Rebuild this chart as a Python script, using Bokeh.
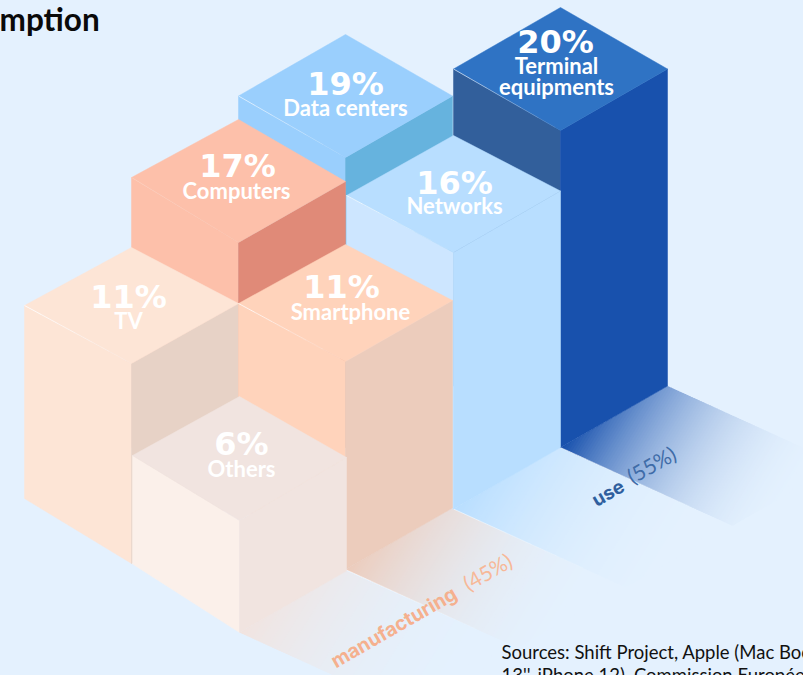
import math
from bokeh.plotting import figure
from bokeh.models import Range1d
from bokeh.core.properties import value
from bokeh.embed import file_html
from bokeh.resources import INLINE

# ---------- data ----------
categories = ["Terminal equipments", "Data centers", "Networks", "Computers", "TV", "Smartphone", "Others"]
shares = [20, 19, 16, 17, 11, 11, 6]
# drawn column heights (the picture does not scale them strictly with the share)
drawn_heights = [317, 290, 256.5, 266.5, 200, 208, 112]
split_names = ["manufacturing", "use"]
split_shares = [45, 55]
source_lines = ["Sources: Shift Project, Apple (Mac Book", "13'', iPhone 12), Commission Européenne"]
title_fragment = "mption"

# ---------- layout ----------
BG = "#e4f1fe"
W, H = 803, 675
ORIGIN = (560.0, 447.0)
STEP_X, STEP_Y = 107.0, 61.5
# (grid column, grid row, nudge x, nudge y)
grid = [(0, 0, 0, 0), (1, 1, -1, 0), (1, 0, 0, 0), (2, 1, -1, 0), (3, 1, -1, -7), (2, 0, -1, -1), (3, 0, 0, 0.5)]
# slight tilt of each top (px down at left, back, right corners)
tilts = [(0, 0, 0), (0, 0, 0), (4.5, 6, 0), (-3.5, 0, 0.5), (3.5, 7, 1.5), (3.5, 6, 0.5), (-3.5, -1, -1.5)]
floor_left_dy = [0, 0, 0, 0, -3.5, 0, -7]
top_colors = ["#2f73c4", "#9acffd", "#b8deff", "#fdc0aa", "#fde5d6", "#ffd3bb", "#f1e4e0"]
left_colors = ["#325f9b", "#9acffd", "#cde6ff", "#fdc0aa", "#fde5d6", "#ffd3bb", "#fbf0ea"]
right_colors = ["#1851ad", "#66b3de", "#b8deff", "#e08a78", "#e7d2c6", "#ecccbc", "#f1e4e0"]
shine = [0.6, 0.6, 0.7, 0.15, 0.8, 0.8, 0.0]
label_lines = [["Terminal", "equipments"], ["Data centers"], ["Networks"], ["Computers"], ["TV"], ["Smartphone"], ["Others"]]
pct_pos = [(555, 41), (345, 83), (454, 182), (237, 165), (128, 296), (341, 286), (241, 443)]
lab_pos = [(556, 65), (345, 107), (454, 205), (236, 190), (128, 320), (350, 311), (241, 468)]


def foot(i):
    c, r, nx, ny = grid[i]
    return ORIGIN[0] - (c + r) * STEP_X + nx, ORIGIN[1] + (c - r) * STEP_Y + ny


p = figure(width=W, height=H, x_range=Range1d(0, W), y_range=Range1d(H, 0),
           output_backend="svg", toolbar_location=None, min_border=0,
           background_fill_color=BG, border_fill_color=BG, outline_line_color=None)
p.axis.visible = False
p.grid.visible = False


# ---------- floor shadows ----------
def clip(poly, g, s, keep_above):
    out = []
    n = len(poly)
    for i in range(n):
        a, b = poly[i], poly[(i + 1) % n]
        da = a[0] * g[0] + a[1] * g[1] - s
        db = b[0] * g[0] + b[1] * g[1] - s
        if not keep_above:
            da, db = -da, -db
        if da >= 0:
            out.append(a)
        if da * db < 0:
            t = da / (da - db)
            out.append((a[0] + t * (b[0] - a[0]), a[1] + t * (b[1] - a[1])))
    return out


def rgb(h):
    return tuple(int(h[i:i + 2], 16) for i in (1, 3, 5))


def blend(c, alpha):
    a, b = rgb(c), rgb(BG)
    return "#%02x%02x%02x" % tuple(round(a[i] * alpha + b[i] * (1 - alpha)) for i in range(3))


DIR = (1.0, 0.455)
GRAD = (0.85, 0.525)
FADE = 225.0
BANDS = 90
for idx, col in [(6, "#f1e4e0"), (5, "#ecccbc"), (2, "#b8deff"), (0, "#1851ad")]:
    bx, by = foot(idx)
    L = 172.0
    poly = [(bx, by), (bx + STEP_X, by - STEP_Y), (bx + STEP_X + L, by - STEP_Y + L * DIR[1]), (bx + L, by + L * DIR[1])]
    s0 = bx * GRAD[0] + by * GRAD[1]
    # far bands first; each runs on under the nearer one, so no seams show
    for k in reversed(range(BANDS)):
        t0, t1 = k / BANDS, (k + 1) / BANDS
        q = clip(clip(poly, GRAD, s0 + t0 * FADE, True), GRAD, s0 + t1 * FADE + 1.5, False)
        if len(q) >= 3:
            p.patch([a for a, _ in q], [b for _, b in q],
                    fill_color=blend(col, (1 - (t0 + t1) / 2) ** 2.2), line_color=None)
    if idx in (0, 2, 5):
        for s in range(5):
            a, b = s * 26, (s + 1) * 26
            p.line([bx + a, bx + b], [by + a * DIR[1], by + b * DIR[1]], line_color="white",
                   line_alpha=0.55 * (1 - s / 5), line_width=1)

# ---------- columns, back to front ----------
for i in range(len(categories)):
    bx, by = foot(i)
    h = drawn_heights[i]
    tl, tk, tr = tilts[i]
    yb = by - h
    top_b = (bx, yb)
    top_l = (bx - STEP_X, yb - STEP_Y + tl)
    top_r = (bx + STEP_X, yb - STEP_Y + tr)
    top_k = (bx, yb - 2 * STEP_Y + tk)
    base_l = (bx - STEP_X, by - STEP_Y + floor_left_dy[i])
    base_r = (bx + STEP_X, by - STEP_Y)
    for pts, c in [([top_l, top_b, (bx, by), base_l], left_colors[i]),
                   ([top_b, top_r, base_r, (bx, by)], right_colors[i]),
                   ([top_k, top_r, top_b, top_l], top_colors[i])]:
        p.patch([a for a, _ in pts], [b for _, b in pts], fill_color=c, line_color=c, line_width=0.5)
    if shine[i] > 0:
        for s in range(6):
            f0, f1 = s / 6 * 0.95, (s + 1) / 6 * 0.95
            p.line([top_l[0] + f0 * (top_b[0] - top_l[0]), top_l[0] + f1 * (top_b[0] - top_l[0])],
                   [top_l[1] + f0 * (top_b[1] - top_l[1]), top_l[1] + f1 * (top_b[1] - top_l[1])],
                   line_color="white", line_alpha=shine[i] * (1 - s / 6), line_width=1)

# ---------- column labels ----------
for i, name in enumerate(categories):
    x, y = pct_pos[i]
    p.text([x], [y], text=[f"{shares[i]}%"], text_font=value("DejaVu Sans"), text_font_style="bold",
           text_font_size="32px", text_color="white", text_align="center", text_baseline="middle")
    x, y = lab_pos[i]
    for j, ln in enumerate(label_lines[i]):
        p.text([x], [y + j * 21], text=[ln], text_font=value("Lato"), text_font_style="bold",
               text_font_size="22px", text_color="white", text_align="center", text_baseline="middle")

# ---------- floor labels ----------
ANG = math.radians(30)
p.text([332], [662], text=[split_names[0]], angle=[ANG], text_font=value("Inter"), text_font_style="bold",
       text_font_size="19.6px", text_color="#f5b08e", text_align="left", text_baseline="alphabetic")
p.text([464], [584], text=[f"({split_shares[0]}%)"], angle=[ANG], text_font=value("Lato"),
       text_font_size="21px", text_color="#f7b898", text_align="left", text_baseline="alphabetic")
p.text([593], [501], text=[split_names[1]], angle=[ANG], text_font=value("Inter"), text_font_style="bold",
       text_font_size="19px", text_color="#2f5f9e", text_align="left", text_baseline="alphabetic")
p.text([628], [477], text=[f"({split_shares[1]}%)"], angle=[ANG], text_font=value("Lato"),
       text_font_size="21px", text_color="#3f6ca8", text_align="left", text_baseline="alphabetic")

# ---------- title fragment and sources ----------
p.text([-1], [18.5], text=[title_fragment], text_font=value("Lato"), text_font_style="bold",
       text_font_size="31.5px", text_color="#0a0a0a", text_align="left", text_baseline="alphabetic")
for j, ln in enumerate(source_lines):
    p.text([501], [651 + j * 23], text=[ln], text_font=value("Lato"), text_font_size="18.5px",
           text_color="#111111", text_align="left", text_baseline="alphabetic")

html = file_html(p, INLINE)
html = html.replace("<head>", "<head><style>html,body{margin:0;padding:0;background:#e4f1fe;overflow:hidden}</style>", 1)
open("out.html", "w").write(html)
